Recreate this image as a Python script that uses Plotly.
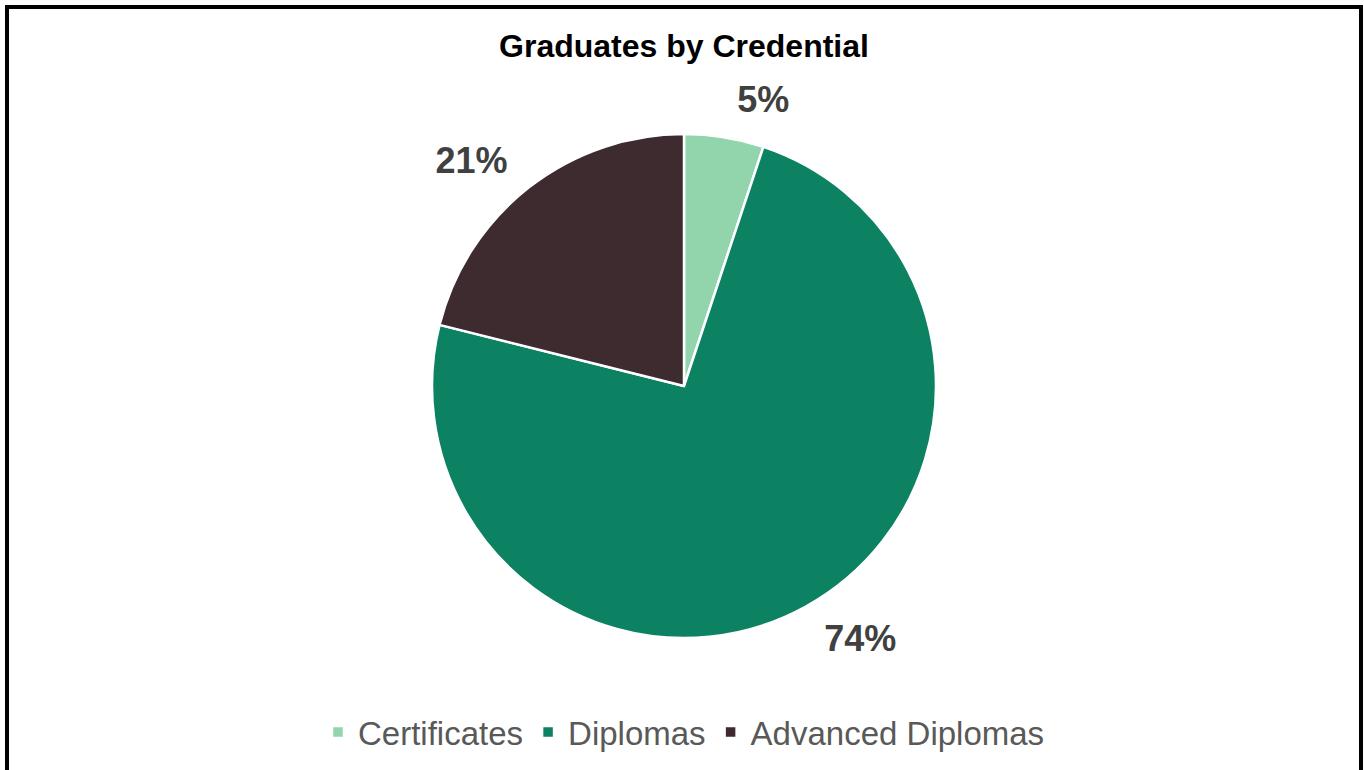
import plotly.graph_objects as go

categories = ["Certificates", "Diplomas", "Advanced Diplomas"]
values = [5.1, 73.8, 21.1]
colors = ["#92D5AD", "#0C8262", "#3D2B2F"]

W, H = 1364, 770
ml, mr, mt, mb = 4, 0, 104, 102
ph = H - mt - mb
pw = W - ml - mr
cx, cy = 684, 386
R = 252          # pie radius in px
R_LABEL = 270    # radius used to place the outside percentage labels


def px_x(x):
    return (x - ml) / pw


def px_y(y):
    return (H - mb - y) / ph


def domain(r):
    return dict(x=[px_x(cx - r), px_x(cx + r)], y=[px_y(cy + r), px_y(cy - r)])


fig = go.Figure()
fig.add_trace(
    go.Pie(
        labels=categories,
        values=values,
        sort=False,
        direction="clockwise",
        rotation=0,
        domain=domain(R),
        marker=dict(colors=colors, line=dict(color="white", width=2.5)),
        textinfo="none",
        hoverinfo="label+percent",
    )
)
fig.add_trace(
    go.Pie(
        labels=categories,
        values=values,
        sort=False,
        direction="clockwise",
        rotation=0,
        domain=domain(R_LABEL),
        marker=dict(colors=["rgba(0,0,0,0)"] * 3, line=dict(width=0)),
        textposition="outside",
        texttemplate="%{percent:.0%}",
        textfont=dict(family="Liberation Sans, Arial, sans-serif", size=36, color="#404040", weight="bold"),
        hoverinfo="skip",
        showlegend=False,
    )
)

fig.update_layout(
    width=W,
    height=H,
    margin=dict(l=ml, r=mr, t=mt, b=mb, autoexpand=False),
    paper_bgcolor="white",
    plot_bgcolor="white",
    title=dict(
        text="<b>Graduates by Credential</b>",
        x=0.5 + (ml - mr) / (2 * W),
        xanchor="center",
        y=1 - 46 / H,
        yanchor="middle",
        yref="container",
        font=dict(family="Liberation Sans, Arial, sans-serif", size=32, color="black"),
    ),
    legend=dict(
        orientation="h",
        x=0.5,
        xanchor="center",
        y=px_y(732),
        yanchor="middle",
        yref="paper",
        font=dict(family="Liberation Sans, Arial, sans-serif", size=33, color="#595959"),
        itemwidth=30,
        tracegroupgap=40,
    ),
    shapes=[
        dict(
            type="rect",
            xref="paper",
            yref="paper",
            x0=px_x(7),
            x1=px_x(1361),
            y0=px_y(790),
            y1=px_y(7),
            line=dict(color="black", width=4),
            fillcolor="rgba(0,0,0,0)",
            layer="above",
        )
    ],
)

fig.write_html("out.html")
